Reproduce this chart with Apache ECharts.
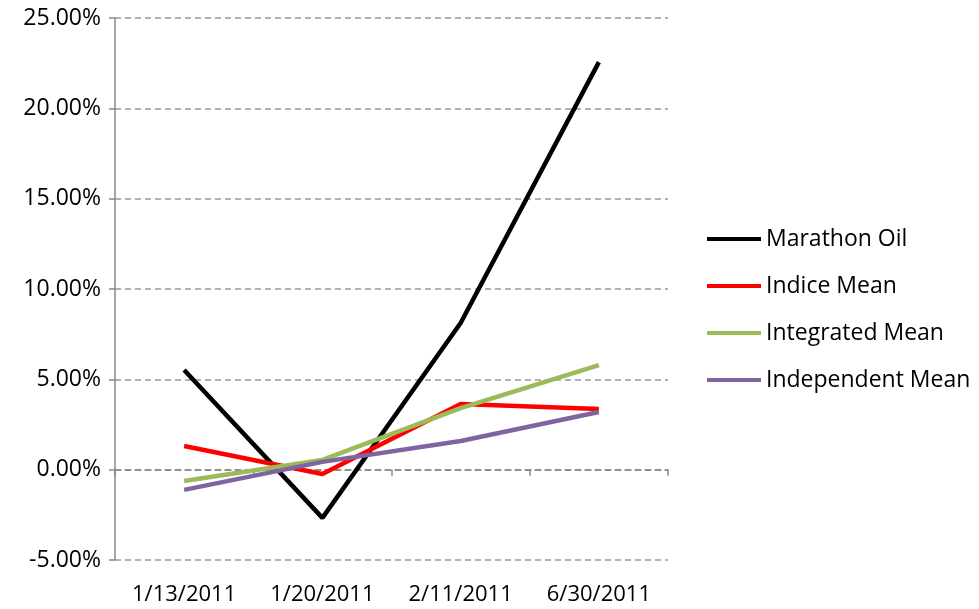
<!DOCTYPE html>
<html>
<head>
<meta charset="utf-8">
<script src="https://cdn.jsdelivr.net/npm/echarts@6/dist/echarts.min.js"></script>
<style>
html, body { margin: 0; padding: 0; background: #fff; }
#chart { width: 979px; height: 609px; }
</style>
</head>
<body>
<div id="chart"></div>
<script>
var dates = ['1/13/2011', '1/20/2011', '2/11/2011', '6/30/2011'];
var marathonOil = [5.52, -2.67, 8.12, 22.56];
var indiceMean = [1.31, -0.24, 3.64, 3.36];
var integratedMean = [-0.63, 0.54, 3.41, 5.79];
var independentMean = [-1.12, 0.43, 1.59, 3.19];

var chart = echarts.init(document.getElementById('chart'));
var font = "'Open Sans', sans-serif";

function makeSeries(name, data, color) {
    return {
        name: name,
        type: 'line',
        data: data,
        showSymbol: false,
        symbol: 'none',
        lineStyle: { width: 4.5, color: color },
        itemStyle: { color: color }
    };
}

var option = {
    animation: false,
    grid: { left: 115, right: 311, top: 18, bottom: 49 },
    legend: {
        orient: 'vertical',
        left: 702,
        top: 221,
        icon: 'rect',
        itemWidth: 54,
        itemHeight: 4,
        itemGap: 21,
        textStyle: { fontFamily: font, fontSize: 23, color: '#000', lineHeight: 26 },
        data: ['Marathon Oil', 'Indice Mean', 'Integrated Mean', 'Independent Mean']
    },
    xAxis: {
        type: 'category',
        data: dates,
        boundaryGap: true,
        axisLine: { onZero: true, lineStyle: { color: '#888', type: [6, 4], width: 1.5 } },
        axisTick: { show: true, length: 6, lineStyle: { color: '#888', width: 1.5 } },
        axisLabel: {
            interval: 0,
            fontFamily: font, fontSize: 22, color: '#000', margin: 24,
            formatter: function (v) { return v; }
        },
        splitLine: { show: false }
    },
    yAxis: {
        type: 'value',
        min: -5,
        max: 25,
        interval: 5,
        axisLine: { show: true, lineStyle: { color: '#888', width: 1.5 } },
        axisTick: { show: true, length: 6, lineStyle: { color: '#888', width: 1.5 } },
        axisLabel: {
            fontFamily: font, fontSize: 23, color: '#000', margin: 14,
            formatter: function (v) { return v.toFixed(2) + '%'; }
        },
        splitLine: { show: true, lineStyle: { color: '#999', type: [6, 4], width: 1.5 } }
    },
    series: [
        makeSeries('Marathon Oil', marathonOil, '#000000'),
        makeSeries('Indice Mean', indiceMean, '#FF0000'),
        makeSeries('Integrated Mean', integratedMean, '#9BBB59'),
        makeSeries('Independent Mean', independentMean, '#8064A2')
    ]
};

chart.setOption(option);
</script>
</body>
</html>
